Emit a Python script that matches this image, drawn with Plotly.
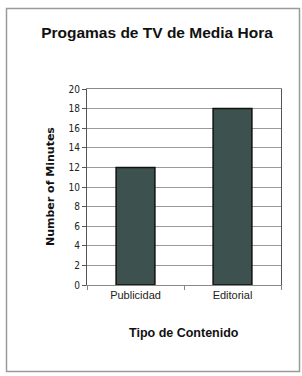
import plotly.graph_objects as go

categories = ["Publicidad", "Editorial"]
minutes = [12, 18]
y_ticks = [0, 2, 4, 6, 8, 10, 12, 14, 16, 18, 20]

W, H = 302, 376
L, R, T, B = 87, 21, 89, 91
pw, ph = W - L - R, H - T - B

def px_x(p):
    return (p - L) / pw

def px_y(p):
    return (H - B - p) / ph

fig = go.Figure(go.Bar(
    x=categories, y=minutes,
    marker=dict(color="#3d524e", line=dict(color="#111111", width=1.5)),
    width=0.4,
))

fig.update_layout(
    width=W, height=H,
    margin=dict(l=L, r=R, t=T, b=B),
    paper_bgcolor="white", plot_bgcolor="white",
    showlegend=False,
    font=dict(family="Liberation Sans, Arial, sans-serif", color="#111111"),
    title=dict(text="<b>Progamas de TV de Media Hora</b>", x=157 / W, xanchor="center",
               xref="container", yref="container", y=1 - 33 / H, yanchor="middle",
               font=dict(size=15.5, color="#111111")),
    xaxis=dict(showline=True, linecolor="#888888", linewidth=1, mirror=True,
               ticks="outside", tickson="boundaries", ticklen=4, tickcolor="#888888",
               tickfont=dict(size=11, color="#222222"), showgrid=False),
    yaxis=dict(range=[0, 20], tickvals=y_ticks, showline=True, linecolor="#555555", linewidth=1,
               mirror=True, ticks="outside", ticklen=4, tickcolor="#555555",
               gridcolor="#9a9a9a", gridwidth=1,
               tickfont=dict(size=10, color="#222222", family="DejaVu Sans Condensed, Liberation Sans, sans-serif")),
    shapes=[dict(type="rect", xref="paper", yref="paper",
                 x0=px_x(6.5), x1=px_x(299.5), y0=px_y(371.5), y1=px_y(8.5),
                 line=dict(color="#9a9a9a", width=1.5), layer="below")],
    annotations=[
        dict(text="<b>Tipo de Contenido</b>", xref="paper", yref="paper",
             x=0.5, y=px_y(333), showarrow=False, xanchor="center", yanchor="middle",
             font=dict(size=12.5, color="#111111")),
        dict(text="<b>Number of Minutes</b>", xref="paper", yref="paper",
             x=px_x(50), y=px_y(187), showarrow=False, textangle=-90,
             xanchor="center", yanchor="middle",
             font=dict(size=11, color="#111111", family="DejaVu Sans, sans-serif")),
    ],
)

fig.write_html("out.html", config={"displayModeBar": False},
               post_script="document.body.style.margin='0';document.body.style.overflow='hidden';")
